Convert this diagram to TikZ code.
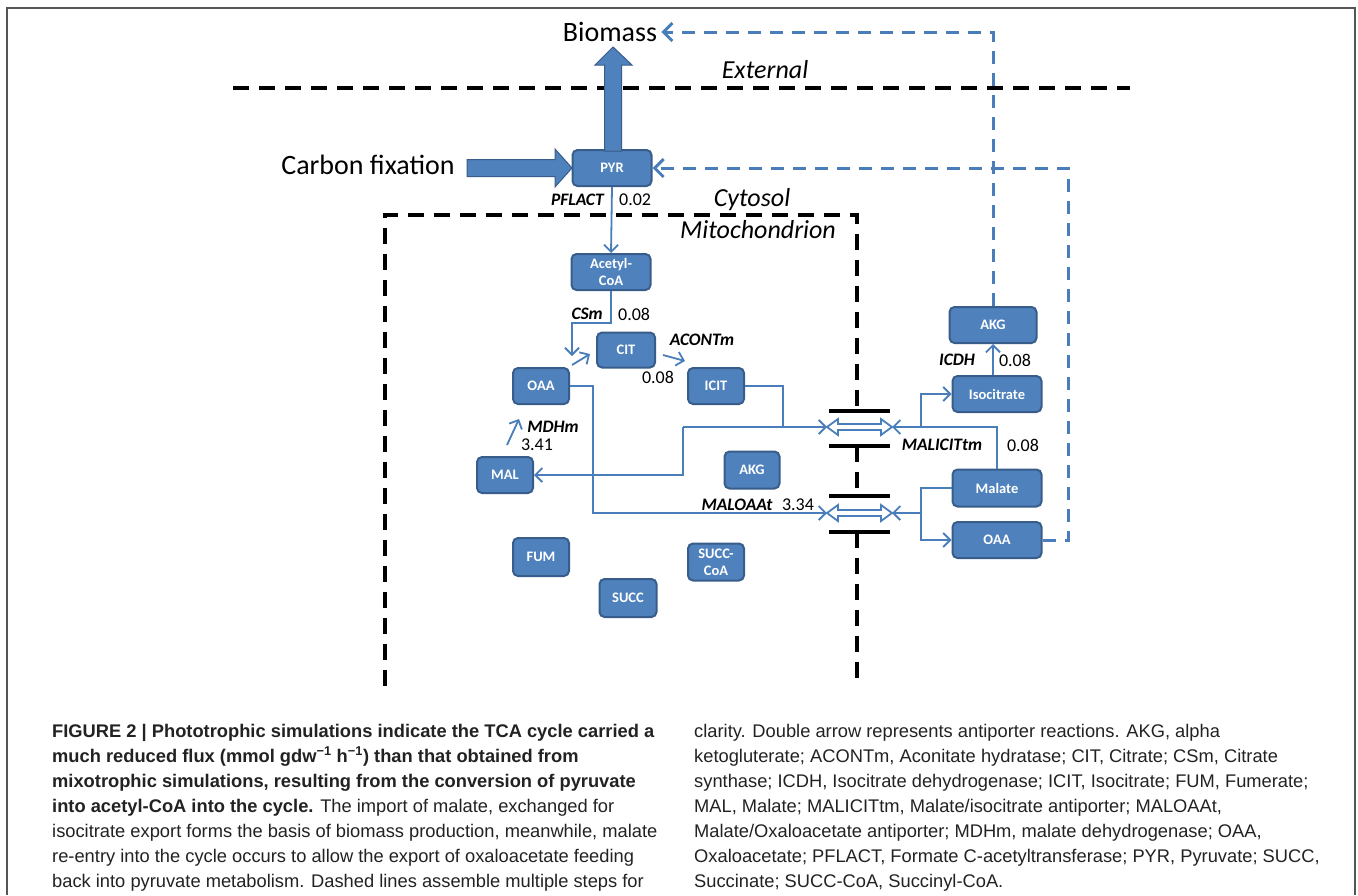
\documentclass[tikz,border=0pt]{standalone}
\usepackage{fontspec}
\setmainfont{Carlito}
\newfontfamily\capfont{Liberation Sans}
\usetikzlibrary{arrows.meta}
\definecolor{boxfill}{HTML}{4F81BD}
\definecolor{boxdraw}{HTML}{385D8A}
\definecolor{linec}{HTML}{4A7EBB}
\definecolor{framec}{HTML}{555555}
\definecolor{capc}{HTML}{222222}
\begin{document}
\begin{tikzpicture}[x=1pt,y=-1pt,
  met/.style={draw=boxdraw, fill=boxfill, line width=2pt, rounded corners=5pt,
    text=white, font=\fontsize{14.5}{16}\selectfont\bfseries, align=center,
    inner sep=0pt, minimum height=36pt},
  tarrow/.style={draw=linec, line width=1.8pt, -{Straight Barb[length=7pt,width=14pt]}},
  tline/.style={draw=linec, line width=1.8pt},
  dblue/.style={draw=linec, line width=3pt, dash pattern=on 13pt off 9pt,
    -{Straight Barb[length=9pt,width=18pt]}},
  bdash/.style={draw=black, line width=4pt, dash pattern=on 16pt off 10pt},
  bar/.style={draw=black, line width=3.5pt},
  bigarr/.style={fill=boxfill, draw=boxdraw, line width=1pt},
  rlab/.style={font=\fontsize{17.5}{18}\selectfont\bfseries\itshape, inner sep=0pt},
  num/.style={font=\fontsize{18}{18}\selectfont, inner sep=0pt},
  big/.style={font=\fontsize{28}{30}\selectfont, inner sep=0pt},
  comp/.style={font=\fontsize{26}{28}\selectfont\itshape, inner sep=0pt},
  antip/.style={draw=linec, line width=1.8pt, fill=white, line join=miter},
  capline/.style={anchor=base west, inner sep=0pt, text=capc, font=\capfont\fontsize{18.3}{24}\selectfont},
]
\useasboundingbox (0,0) rectangle (1358,895);
\fill[white] (0,0) rectangle (1358,895);
% frame
\draw[framec, line width=1.5pt] (7,895) -- (7,8) -- (1355,8) -- (1355,895);

% compartment boundaries
\draw[bdash] (233,88) -- (1130,88);
\draw[bdash] (385,686) -- (385,215) -- (857,215) -- (857,411);
\draw[bdash] (857,446) -- (857,496);
\draw[bdash] (857,532) -- (857,686);
\draw[bar] (829,411) -- (890,411);
\draw[bar] (829,446) -- (890,446);
\draw[bar] (829,496) -- (890,496);
\draw[bar] (829,532) -- (890,532);

% texts
\node[big] (bio) at (610,32) {Biomass};
\node[big] (cfix) at (368,165) {Carbon fixation};
\node[comp] (ext) at (765,70) {External};
\node[comp] (cyt) at (752,200) {Cytosol};
\node[comp] (mit) at (758,230) {Mitochondrion};

% metabolites
\node[met, minimum width=79pt] (PYR) at (612,168) {PYR};
\node[met, minimum width=79pt, font=\fontsize{14.5}{17}\selectfont\bfseries] (ACoA) at (611,272) {Acetyl-\\CoA};
\node[met, minimum width=58pt, minimum height=35pt] (CIT) at (626,350) {CIT};
\node[met, minimum width=56pt] (ICIT) at (716,386) {ICIT};
\node[met, minimum width=56pt] (OAAm) at (541,386) {OAA};
\node[met, minimum width=56pt] (MAL) at (505,475) {MAL};
\node[met, minimum width=55pt, minimum height=37pt] (AKGm) at (752,470) {AKG};
\node[met, minimum width=56pt, minimum height=38pt] (FUM) at (541,557) {FUM};
\node[met, minimum width=56pt, minimum height=37pt, font=\fontsize{14.5}{17}\selectfont\bfseries] (SCoA) at (716,562) {SUCC-\\CoA};
\node[met, minimum width=57pt, minimum height=38pt] (SUCC) at (628,598) {SUCC};
\node[met, minimum width=87pt] (AKGc) at (993,325) {AKG};
\node[met, minimum width=89pt] (ISO) at (997,394) {Isocitrate};
\node[met, minimum width=89pt, minimum height=37pt] (MALc) at (997,488) {Malate};
\node[met, minimum width=89pt] (OAAc) at (997,540) {OAA};

% big arrows
\filldraw[bigarr] (604.5,151) -- (604.5,65) -- (595,65) -- (613,47) -- (632,65) -- (621.5,65) -- (621.5,151) -- cycle;
\filldraw[bigarr] (467,159.5) -- (555,159.5) -- (555,149) -- (572,168) -- (555,187) -- (555,176.5) -- (467,176.5) -- cycle;

% dashed blue feedbacks
\draw[dblue, shorten >=4pt] (AKGc.north) |- (bio.east);
\coordinate (rc) at (1068,540);
\draw[dblue] (OAAc.east) -- (rc) |- (PYR.east);

% antiporters
\coordinate (upL) at (827,427);
\coordinate (upR) at (892,427);
\coordinate (loL) at (827,513);
\coordinate (loR) at (892,513);
\foreach \cy in {427,513}{
  \draw[antip] (827,\cy) -- (838,\cy-8) -- (838,\cy-3) -- (881,\cy-3) -- (881,\cy-8) -- (892,\cy)
     -- (881,\cy+8) -- (881,\cy+3) -- (838,\cy+3) -- (838,\cy+8) -- cycle;
}

% thin connectors
\draw[tarrow] (PYR.south) -- (ACoA.north);
\coordinate (cs1) at (611,323);
\coordinate (cs2) at (572,323);
\coordinate (cs3) at (572,356);
\draw[tarrow] (ACoA.south) -- (cs1) -- (cs2) -- (cs3);
\coordinate (cs4) at (572,365);
\draw[tarrow] (cs4) -- ([xshift=-6pt,yshift=-4pt]CIT.west);
\draw[tarrow] ([xshift=7pt,yshift=-5pt]CIT.east) -- ([xshift=-2pt,yshift=6pt]ICIT.north west);
\draw[tarrow] ([xshift=2pt,yshift=11pt]MAL.north) -- ([xshift=-22pt,yshift=-14pt]OAAm.south);

\coordinate (j1) at (783,427);
\coordinate (j2) at (683,427);
\draw[tline] (ICIT.east) -| (j1);
\draw[tarrow] (j2) -- (upL);
\draw[tarrow] (j2) |- (MAL.east);
\coordinate (o1) at (593,513);
\draw[tarrow] (OAAm.east) -| (o1) -- (loL);

\coordinate (j3) at (921,427);
\draw[tarrow] (MALc.north) |- (upR);
\draw[tarrow] (j3) |- (ISO.west);
\draw[tarrow] (AKGc.south |- ISO.north) -- (AKGc.south);
\coordinate (j4) at (921,513);
\draw[tline] (MALc.west) -| (j4);
\draw[tarrow] (j4) -- (loR);
\draw[tarrow] (j4) |- (OAAc.west);

% reaction labels
\node[rlab, anchor=east] (lPF) at (604,200) {PFLACT};
\node[num, anchor=west] (nPF) at (619,200) {0.02};
\node[rlab, anchor=east] (lCS) at (603,314) {CSm};
\node[num, anchor=west] (nCS) at (618,314) {0.08};
\node[rlab] (lAC) at (702,340) {ACONTm};
\node[num] (nAC) at (658,377) {0.08};
\node[rlab] (lMD) at (553,427) {MDHm};
\node[num] (nMD) at (537,445) {3.41};
\node[rlab] (lIC) at (957,360) {ICDH};
\node[num] (nIC) at (1015,360) {0.08};
\node[rlab] (lMI) at (942,445) {MALICITtm};
\node[num] (nMI) at (1023,445) {0.08};
\node[rlab] (lMO) at (737,505) {MALOAAt};
\node[num] (nMO) at (798,505) {3.34};

% caption
\node[capline] (c1) at (52,737) {\bfseries FIGURE 2 | Phototrophic simulations indicate the TCA cycle carried a};
\node[capline] (c2) at (52,762) {\bfseries much reduced flux (mmol gdw\textsuperscript{−1} h\textsuperscript{−1}) than that obtained from};
\node[capline] (c3) at (52,787) {\bfseries mixotrophic simulations, resulting from the conversion of pyruvate};
\node[capline] (c4) at (52,812) {\textbf{into acetyl-CoA into the cycle.} The import of malate, exchanged for};
\node[capline] (c5) at (52,837) {isocitrate export forms the basis of biomass production, meanwhile, malate};
\node[capline] (c6) at (52,862) {re-entry into the cycle occurs to allow the export of oxaloacetate feeding};
\node[capline] (c7) at (52,887) {back into pyruvate metabolism. Dashed lines assemble multiple steps for};
\node[capline] (d1) at (694,737) {clarity. Double arrow represents antiporter reactions. AKG, alpha};
\node[capline] (d2) at (694,762) {ketogluterate; ACONTm, Aconitate hydratase; CIT, Citrate; CSm, Citrate};
\node[capline] (d3) at (694,787) {synthase; ICDH, Isocitrate dehydrogenase; ICIT, Isocitrate; FUM, Fumerate;};
\node[capline] (d4) at (694,812) {MAL, Malate; MALICITtm, Malate/isocitrate antiporter; MALOAAt,};
\node[capline] (d5) at (694,837) {Malate/Oxaloacetate antiporter; MDHm, malate dehydrogenase; OAA,};
\node[capline] (d6) at (694,862) {Oxaloacetate; PFLACT, Formate C-acetyltransferase; PYR, Pyruvate; SUCC,};
\node[capline] (d7) at (694,887) {Succinate; SUCC-CoA, Succinyl-CoA.};
\end{tikzpicture}
\end{document}
